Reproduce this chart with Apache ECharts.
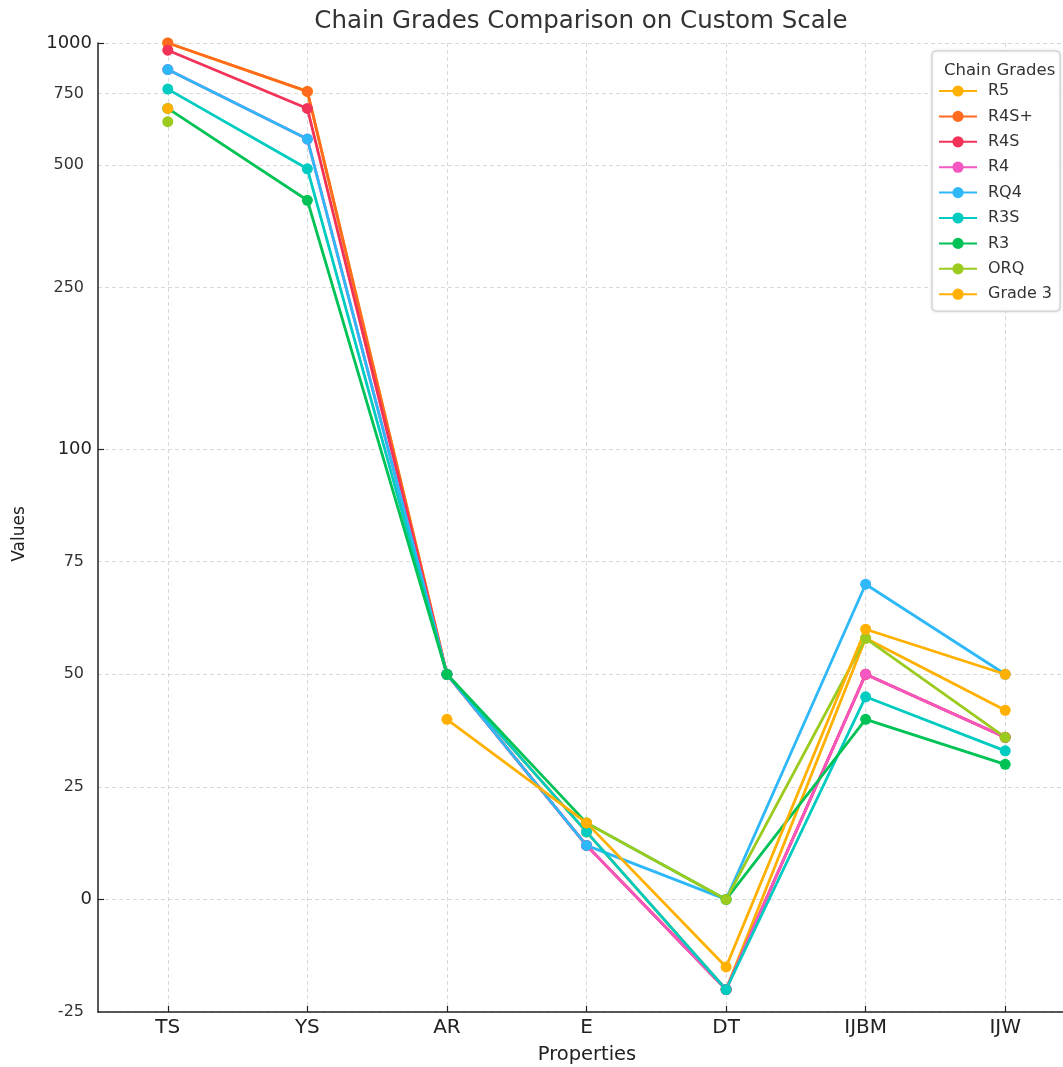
<!DOCTYPE html>
<html>
<head>
<meta charset="utf-8">
<title>Chain Grades Comparison on Custom Scale</title>
<script src="https://cdn.jsdelivr.net/npm/echarts@6/dist/echarts.min.js"></script>
<style>
  html, body { margin: 0; padding: 0; background: #fff; }
  #chart { width: 1063px; height: 1067px; }
</style>
</head>
<body>
<div id="chart"></div>
<script>
// 数据
const categories = ['TS', 'YS', 'AR', 'E', 'DT', 'IJBM', 'IJW'];
const gradeNames = ['R5', 'R4S+', 'R4S', 'R4', 'RQ4', 'R3S', 'R3', 'ORQ', 'Grade 3'];
const r5 = [1000, 760, 50, 15, -20, 58, 42];
const r4sPlus = [1000, 760, 50, 12, -20, 50, 36];
const r4s = [960, 690, 50, 12, -20, 50, 36];
const r4 = [860, 580, 50, 12, -20, 50, 36];
const rq4 = [860, 580, 50, 12, 0, 70, 50];
const r3s = [770, 490, 50, 15, -20, 45, 33];
const r3 = [690, 410, 50, 17, 0, 40, 30];
const orq = [640, null, null, 17, 0, 58, 36];
const grade3 = [690, null, 40, 17, -15, 60, 50];
const yTicks = [-25, 0, 25, 50, 75, 100, 250, 500, 750, 1000];
const yMajorTicks = [0, 100, 1000];

const gradeColors = ['#ffb000', '#fe6a1e', '#f33258', '#f457c2', '#2fb8f8', '#00cbc0', '#00c257', '#9bcb1f', '#ffb000'];
const FONT = 'DejaVu Sans';

// 自定义刻度: 100 以下线性, 100 以上对数
const K = 90.2;
function toScale(v) {
  if (v === null || v === undefined) return '-';
  return v <= 100 ? v : 100 + K * Math.log10(v / 100);
}
function fromScale(t) {
  return t <= 100 ? t : 100 * Math.pow(10, (t - 100) / K);
}

const seriesData = [r5, r4sPlus, r4s, r4, rq4, r3s, r3, orq, grade3];
const series = gradeNames.map((name, i) => ({
  name: name,
  type: 'line',
  data: seriesData[i].map((v, j) => [j, toScale(v)]),
  symbol: 'circle',
  symbolSize: 11,
  connectNulls: false,
  lineStyle: { width: 2.8, color: gradeColors[i] },
  itemStyle: { color: gradeColors[i] },
  emphasis: { disabled: true },
  animation: false
}));

const gridLine = { show: true, lineStyle: { color: '#cfcfcf', type: [4, 3], width: 0.8 } };

const chart = echarts.init(document.getElementById('chart'));
chart.setOption({
  backgroundColor: '#fff',
  animation: false,
  title: {
    text: 'Chain Grades',
    left: 939,
    top: 57,
    textStyle: { fontFamily: FONT, fontSize: 16.5, fontWeight: 'normal', color: '#333' },
    z: 10
  },
  legend: {
    orient: 'vertical',
    left: 932,
    top: 51,
    padding: [32, 8, 9, 6],
    itemWidth: 38,
    itemHeight: 14,
    itemGap: 9.4,
    backgroundColor: '#fff',
    borderColor: '#cccccc',
    borderWidth: 1,
    borderRadius: 4,
    shadowColor: 'rgba(0,0,0,0.15)',
    shadowBlur: 3,
    textStyle: { fontFamily: FONT, fontSize: 16, color: '#333', padding: [0, 0, 0, 6] },
    data: gradeNames
  },
  // 右侧被裁掉: 与原图一样, 最后一格只显示一部分
  grid: { left: 98, right: 0, top: 43, bottom: 55, containLabel: false },
  xAxis: {
    type: 'value',
    min: -0.5,
    max: 6.414,
    axisLine: { onZero: false, lineStyle: { color: '#222', width: 1.5 } },
    axisTick: { inside: true, length: 6, customValues: categories.map((c, i) => i), lineStyle: { color: '#222', width: 1.2 } },
    axisLabel: {
      customValues: categories.map((c, i) => i),
      formatter: (v) => categories[Math.round(v)],
      margin: 6,
      fontFamily: FONT,
      fontSize: 20,
      color: '#222'
    },
    splitLine: gridLine
  },
  yAxis: [
    {
      type: 'value',
      min: toScale(-25),
      max: toScale(1000),
      axisLine: { show: false, onZero: false },
      axisTick: { show: false, customValues: yTicks.map(toScale) },
      axisLabel: {
        customValues: yTicks.map(toScale),
        margin: 6,
        formatter: (t) => {
          const n = Math.round(fromScale(t));
          return yMajorTicks.includes(n) ? '{maj|' + n + '}' : '{min|' + n + '}';
        },
        rich: {
          maj: { fontFamily: FONT, fontSize: 18, color: '#222' },
          min: { fontFamily: FONT, fontSize: 16, color: '#333', padding: [0, 8, 0, 0] }
        }
      },
      splitLine: gridLine
    },
    {
      type: 'value',
      min: toScale(-25),
      max: toScale(1000),
      position: 'left',
      axisLine: { show: true, onZero: false, lineStyle: { color: '#222', width: 1.5 } },
      axisTick: { show: true, inside: true, length: 6, customValues: yMajorTicks.map(toScale), lineStyle: { color: '#222', width: 1.2 } },
      axisLabel: { show: false },
      splitLine: { show: false }
    }
  ],
  graphic: [
    {
      type: 'text', x: 581, y: 22,
      style: { text: 'Chain Grades Comparison on Custom Scale', align: 'center', verticalAlign: 'middle', font: '24.5px "DejaVu Sans"', fill: '#333' }
    },
    {
      type: 'text', x: 20, y: 534, rotation: Math.PI / 2,
      style: { text: 'Values', align: 'center', verticalAlign: 'middle', font: '17px "DejaVu Sans"', fill: '#222' }
    },
    {
      type: 'text', x: 587, y: 1055,
      style: { text: 'Properties', align: 'center', verticalAlign: 'middle', font: '19.5px "DejaVu Sans"', fill: '#222' }
    }
  ],
  series: series
});
</script>
</body>
</html>
